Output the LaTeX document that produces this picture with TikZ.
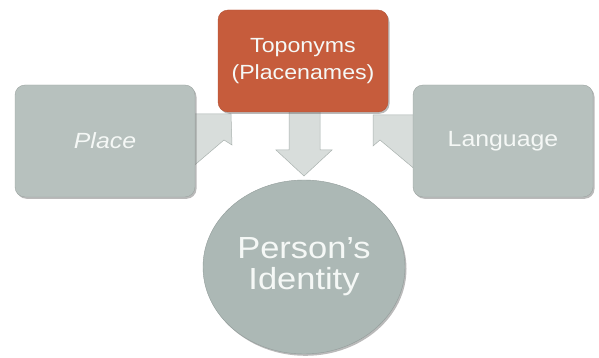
\documentclass[tikz,border=0pt]{standalone}
\usepackage{fontspec}
\setmainfont{Liberation Sans}
\newfontfamily\lab[FakeStretch=1.13]{Liberation Sans}
\usetikzlibrary{shapes.geometric,shadows}
\definecolor{topo}{RGB}{198,92,60}
\definecolor{boxg}{RGB}{183,193,190}
\definecolor{circg}{RGB}{172,184,181}
\definecolor{arrg}{RGB}{216,221,219}
\definecolor{arrb}{RGB}{170,178,175}
\definecolor{txt}{RGB}{245,248,246}
\tikzset{
  boxsh/.style={drop shadow={shadow xshift=1.5pt,shadow yshift=-1.8pt,opacity=0.45,fill=black!60}},
  sidebox/.style={rectangle,rounded corners=10pt,fill=boxg,draw=boxg!85!black,line width=0.4pt,
    minimum width=180pt,minimum height=112pt,inner sep=0pt,boxsh,text=txt,
    font=\lab\fontsize{22}{26}\selectfont},
  topbox/.style={rectangle,rounded corners=10pt,fill=topo,draw=topo!90!black,line width=0.4pt,
    minimum width=170pt,minimum height=102pt,inner sep=0pt,boxsh,text=txt,align=center,
    font=\lab\fontsize{20.5}{27}\selectfont},
  circnode/.style={ellipse,fill=circg,draw=circg!85!black,line width=0.4pt,
    minimum width=202pt,minimum height=174pt,inner sep=0pt,boxsh,text=txt,align=center,
    font=\lab\fontsize{30.5}{34}\selectfont},
  blockarrow/.style={fill=arrg,draw=arrb,line width=0.5pt,line join=miter}
}
\begin{document}
\begin{tikzpicture}[x=1pt,y=-1pt]
\useasboundingbox (0,0) rectangle (599,358);
% block arrows (behind the boxes)
\draw[blockarrow] (190,114) -- (231,114) -- (232,145) -- (224,140) -- (190,169) -- cycle;
\draw[blockarrow] (416,115) -- (373,115) -- (373,146) -- (380,140) -- (417,171) -- cycle;
\draw[blockarrow] (289,100) -- (320,100) -- (320,150) -- (332,150) -- (304,176) -- (276,150) -- (289,150) -- cycle;
% nodes
\node[sidebox] (place) at (105,141) {\itshape Place};
\node[sidebox] (lang) at (503,141) {Language};
\node[topbox] (topo) at (303,61) {Toponyms\\(Placenames)};
\node[circnode] (id) at (304,267) {\raisebox{4pt}{\begin{tabular}{@{}c@{}}Person’s\\[-3pt]Identity\end{tabular}}};
\end{tikzpicture}
\end{document}
